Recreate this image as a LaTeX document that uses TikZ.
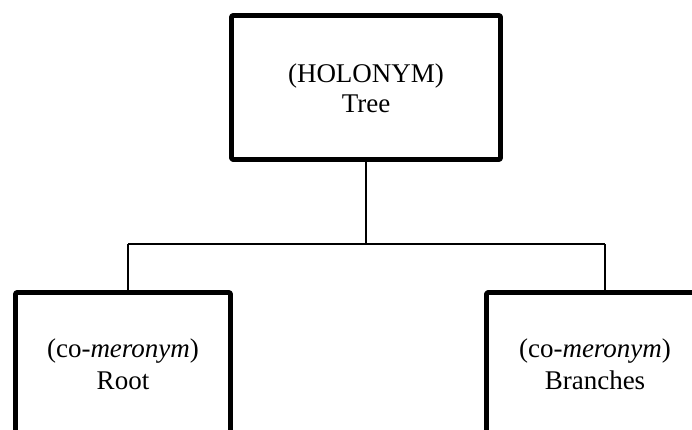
\documentclass[tikz,border=0pt]{standalone}
\usepackage{fontspec}
\setmainfont{Liberation Serif}
\begin{document}
\begin{tikzpicture}[x=1pt,y=-1pt,
  framebox/.style={draw=black, line width=4.6pt, line join=round, rounded corners=1pt,
    inner sep=0pt, outer sep=0pt},
  label text/.style={align=center, inner sep=0pt,
    font=\fontsize{27}{30}\selectfont},
  lower text/.style={label text, font=\fontsize{27}{32}\selectfont},
  link/.style={draw=black, line width=1.6pt}]
  \useasboundingbox (0,0) rectangle (692,430);
  \clip (0,0) rectangle (692,430);

  % holonym box
  \node[framebox, minimum width=269pt, minimum height=144pt] (tree) at (366,87.5) {};
  \node[label text] (treetxt) at (366,88.5) {(HOLONYM)\\Tree};

  % co-meronym boxes (running past the lower edge)
  \node[framebox, minimum width=215pt, minimum height=200pt] (root) at (123,392.5) {};
  \node[lower text] (roottxt) at (123,364) {(co-\textit{meronym})\\Root};

  \node[framebox, minimum width=260pt, minimum height=200pt] (branches) at (616.5,392.5) {};
  \node[lower text] (branchestxt) at (595,364) {(co-\textit{meronym})\\Branches};

  % junction points of the connector tree
  \coordinate (jc) at (366,244);
  \coordinate (jl) at (128,244);
  \coordinate (jr) at (605,244);

  \draw[link] (tree.south) -- (jc);
  \draw[link] (jl) -- (jr);
  \draw[link] (jl) -- (jl |- root.north);
  \draw[link] (jr) -- (jr |- branches.north);
\end{tikzpicture}
\end{document}
